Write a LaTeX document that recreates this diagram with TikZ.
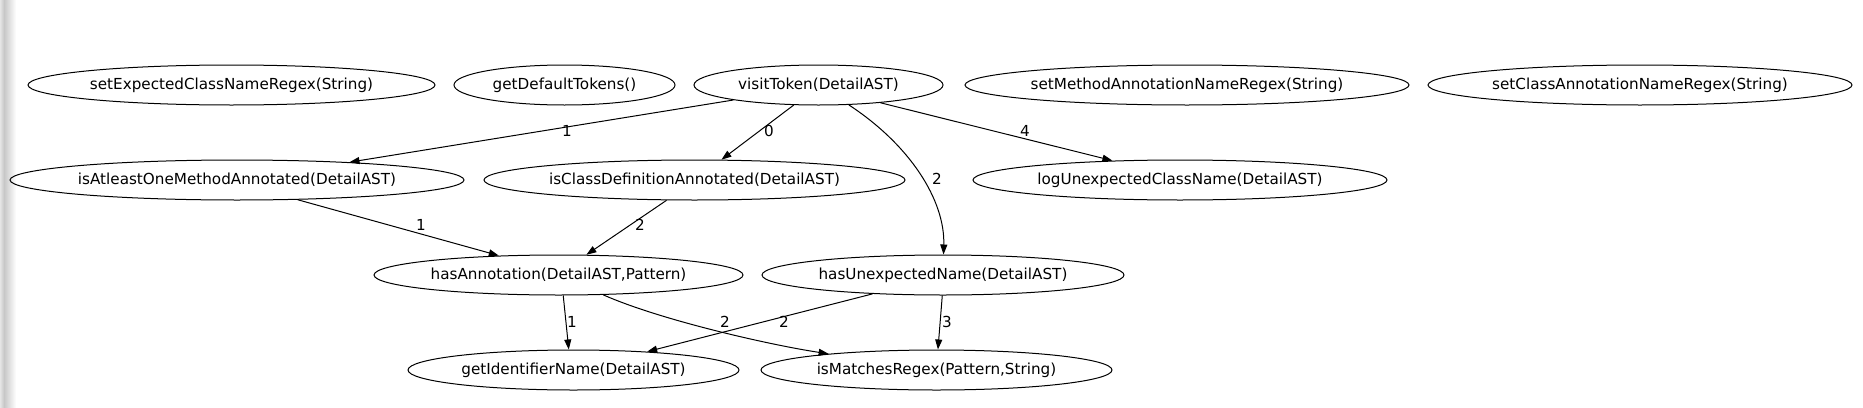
\documentclass[tikz,border=0pt]{standalone}
\usepackage{fontspec}
\setmainfont{DejaVu Sans}
\usetikzlibrary{arrows.meta,shapes.geometric}
\tikzset{
  fn/.style={ellipse,draw=black,line width=1pt,minimum height=40pt,inner xsep=-8pt,inner ysep=0pt,font=\fontsize{15.2}{18}\selectfont},
  call/.style={-{Triangle[length=10pt,width=7pt]},line width=1pt},
  elbl/.style={font=\fontsize{15.2}{18}\selectfont,inner sep=0pt},
}

\begin{document}
\begin{tikzpicture}[x=1pt,y=-1pt]
  \useasboundingbox (0,0) rectangle (1863,407);
  % grey strip on the left
  \shade[left color=black!10,right color=black!22] (0,0) rectangle (4,407);
  \shade[left color=black!22,right color=white] (4,0) rectangle (16,407);
  % methods
  \node[fn,minimum width=407pt] (setExp) at (231.5,85) {setExpectedClassNameRegex(String)};
  \node[fn,minimum width=221pt] (getDef) at (564.5,85) {getDefaultTokens()};
  \node[fn,minimum width=249pt] (visit) at (818.5,85) {visitToken(DetailAST)};
  \node[fn,minimum width=444pt] (setMeth) at (1187,85) {setMethodAnnotationNameRegex(String)};
  \node[fn,minimum width=424pt] (setCls) at (1640,85) {setClassAnnotationNameRegex(String)};
  \node[fn,minimum width=454pt] (isOne) at (237,180) {isAtleastOneMethodAnnotated(DetailAST)};
  \node[fn,minimum width=421pt] (isDef) at (694.5,180) {isClassDefinitionAnnotated(DetailAST)};
  \node[fn,minimum width=414pt] (logUn) at (1180,180) {logUnexpectedClassName(DetailAST)};
  \node[fn,minimum width=369pt] (hasAnn) at (558.5,275) {hasAnnotation(DetailAST,Pattern)};
  \node[fn,minimum width=362pt] (hasUn) at (943,275) {hasUnexpectedName(DetailAST)};
  \node[fn,minimum width=331pt] (getId) at (573.5,370) {getIdentifierName(DetailAST)};
  \node[fn,minimum width=351pt] (isMat) at (936.5,370) {isMatchesRegex(Pattern,String)};
  % calls
  \draw[call] (visit.190) -- (isOne.9);
  \draw[call] (visit.219) -- (isDef.37);
  \draw[call] (visit) .. controls (910,145) and (945,200) .. (hasUn);
  \draw[call] (visit.344) -- (logUn.164);
  \draw[call] (isOne.342) -- (hasAnn.162);
  \draw[call] (isDef.216) -- (hasAnn.36);
  \draw[call] (hasAnn.283) -- (getId.103);
  \draw[call] (hasAnn) .. controls (660,320) and (770,345) .. (isMat);
  \draw[call] (hasUn.195) -- (getId.14);
  \draw[call] (hasUn.268) -- (isMat.86);
  % call order
  \node[elbl] (c1) at (567,131) {1};
  \node[elbl] (c0) at (769,131) {0};
  \node[elbl] (c2) at (937,179) {2};
  \node[elbl] (c4) at (1025,131) {4};
  \node[elbl] (c5) at (421,225) {1};
  \node[elbl] (c6) at (640,225) {2};
  \node[elbl] (c7) at (572,322) {1};
  \node[elbl] (c8) at (725,322) {2};
  \node[elbl] (c9) at (784,322) {2};
  \node[elbl] (c10) at (947,322) {3};
\end{tikzpicture}
\end{document}
